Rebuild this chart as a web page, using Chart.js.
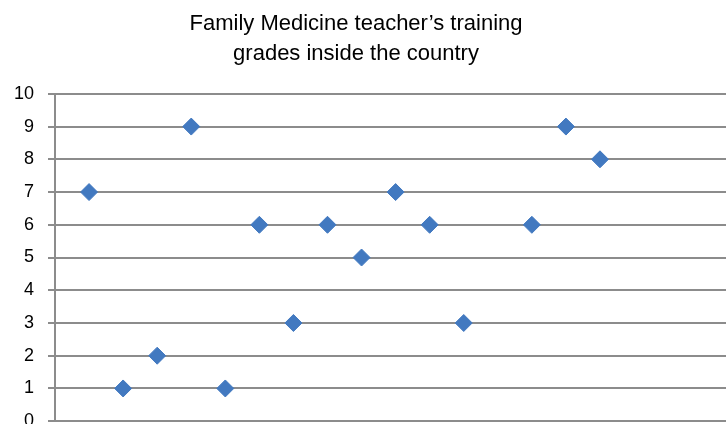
<!DOCTYPE html>
<html>
<head>
<meta charset="utf-8">
<script src="https://cdn.jsdelivr.net/npm/chart.js@4"></script>
<style>
  html, body { margin: 0; padding: 0; background: #fff; overflow: hidden; }
  #wrap { position: relative; width: 726px; height: 424px; overflow: hidden; }
  #box { position: absolute; left: -14px; top: 0; width: 740px; height: 446px; }
</style>
</head>
<body>
<div id="wrap"><div id="box"><canvas id="scatter1"></canvas></div></div>
<script>
// teacher number (13 has no grade) and grade
const teachers = [1, 2, 3, 4, 5, 6, 7, 8, 9, 10, 11, 12, 14, 15, 16];
const grades = [7, 1, 2, 9, 1, 6, 3, 6, 5, 7, 6, 3, 6, 9, 8];
const yTicks = [0, 1, 2, 3, 4, 5, 6, 7, 8, 9, 10];

const points = teachers.map((t, i) => ({ x: t, y: grades[i] }));

const ctx1 = document.getElementById('scatter1');
const scatterChart1 = new Chart(ctx1, {
    type: 'scatter',
    data: {
        datasets: [{
            label: 'Grades',
            data: points,
            pointStyle: 'rectRot',
            pointRadius: 8.5,
            pointHoverRadius: 8.5,
            backgroundColor: '#4279c0',
            borderColor: '#4279c0',
            borderWidth: 1,
            clip: false
        }]
    },
    options: {
        responsive: true,
        maintainAspectRatio: false,
        animation: false,
        layout: { autoPadding: false, padding: { top: 0, right: 0, bottom: 20, left: 0 } },
        plugins: {
            legend: { display: false },
            tooltip: { enabled: false },
            title: {
                display: true,
                text: ['Family Medicine teacher\u2019s training', 'grades inside the country'],
                color: '#000',
                font: { family: 'Liberation Sans, Arial, sans-serif', size: 22, weight: 'normal', lineHeight: 1.36 },
                padding: { top: 9, bottom: 25 }
            }
        },
        scales: {
            x: {
                type: 'linear',
                min: 0,
                max: 19.7,
                display: false
            },
            y: {
                min: 0,
                max: 10,
                afterFit: (scale) => { scale.width = 69; },
                afterBuildTicks: (scale) => { scale.ticks = yTicks.map(v => ({ value: v })); },
                ticks: {
                    color: '#000',
                    padding: 14,
                    font: { family: 'Liberation Sans, Arial, sans-serif', size: 18 }
                },
                grid: {
                    color: '#8c8c8c',
                    lineWidth: 2,
                    tickLength: 7,
                    drawTicks: true
                },
                border: { display: true, color: '#8c8c8c', width: 2 }
            }
        }
    }
});
</script>
</body>
</html>
